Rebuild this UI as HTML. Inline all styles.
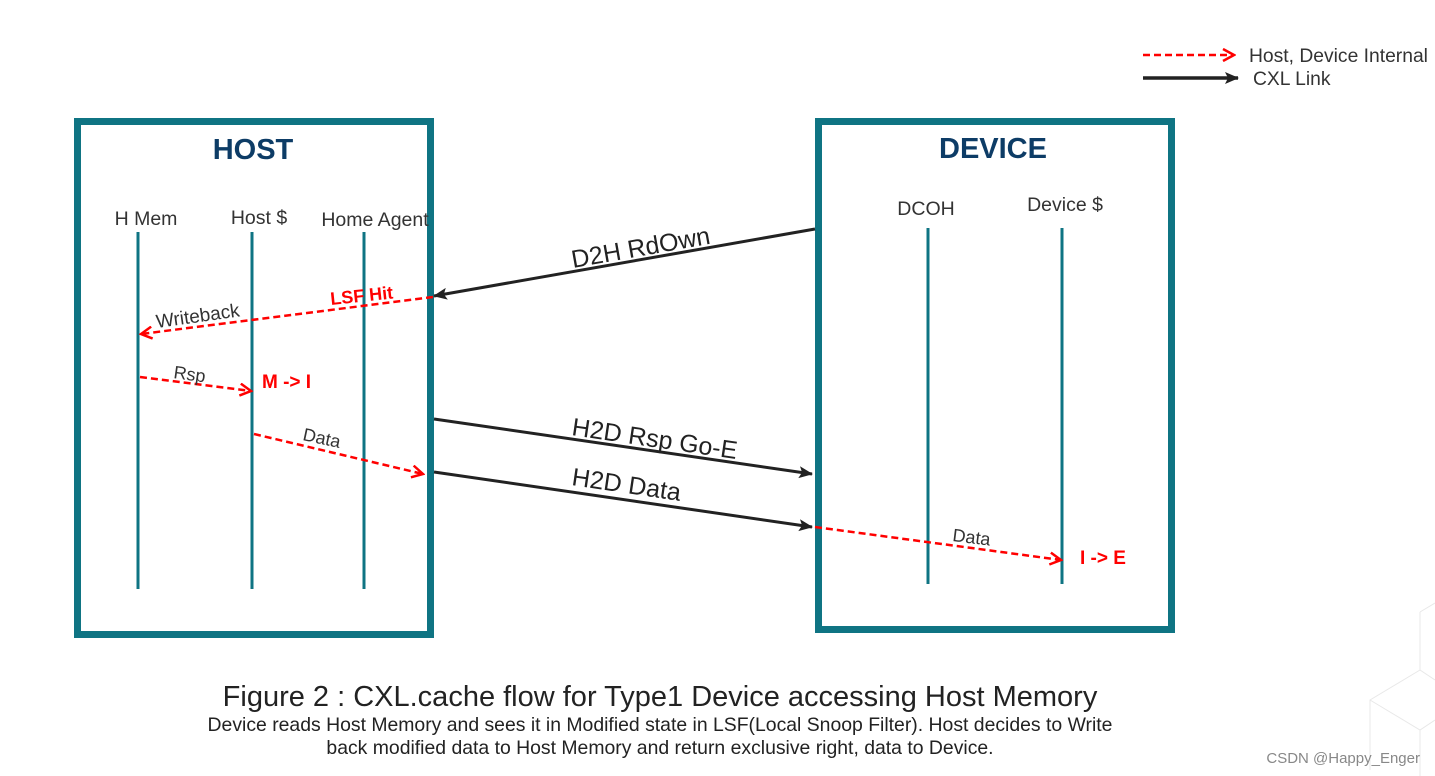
<!DOCTYPE html>
<html><head><meta charset="utf-8"><style>
html,body{margin:0;padding:0;background:#fff;}
svg{display:block;font-family:"Liberation Sans",Arial,sans-serif;}
</style></head><body>
<svg width="1435" height="776" viewBox="0 0 1435 776" xmlns="http://www.w3.org/2000/svg">
<defs>
<marker id="ab" markerWidth="14" markerHeight="14" refX="13" refY="7" orient="auto" markerUnits="userSpaceOnUse"><path d="M0,1 L14,7 L0,13 L3,7 Z" fill="#222"/></marker>
<marker id="ar" markerWidth="14" markerHeight="14" refX="12" refY="7" orient="auto" markerUnits="userSpaceOnUse"><path d="M1,1 L12,7 L1,13" fill="none" stroke="#f00" stroke-width="2.5"/></marker>
</defs>
<g stroke="#e8e8e8" stroke-width="1" fill="none">
<path d="M1420,612 L1435,603 M1420,612 L1420,670 L1435,680 M1420,670 L1370,700 L1370,770 M1370,700 L1420,730 L1435,720 M1420,730 L1420,776"/>
</g>
<line x1="1143" y1="55" x2="1234" y2="55" stroke="#f00" stroke-width="2.5" stroke-dasharray="7,4" marker-end="url(#ar)"/>
<text x="1249" y="62" font-size="19.3" fill="#333">Host, Device Internal</text>
<line x1="1143" y1="78" x2="1238" y2="78" stroke="#222" stroke-width="3.5" marker-end="url(#ab)"/>
<text x="1253" y="85" font-size="19.3" fill="#333">CXL Link</text>
<rect x="77.5" y="121.5" width="353" height="513" fill="none" stroke="#0f7483" stroke-width="7"/>
<rect x="818.5" y="121.5" width="353" height="508" fill="none" stroke="#0f7483" stroke-width="7"/>
<text x="253" y="159" font-size="29" font-weight="bold" fill="#0d3c66" text-anchor="middle">HOST</text>
<text x="993" y="158" font-size="29" font-weight="bold" fill="#0d3c66" text-anchor="middle">DEVICE</text>
<g stroke="#0f7483" stroke-width="3">
<line x1="138" y1="232" x2="138" y2="589"/>
<line x1="252" y1="232" x2="252" y2="589"/>
<line x1="364" y1="232" x2="364" y2="589"/>
<line x1="928" y1="228" x2="928" y2="584"/>
<line x1="1062" y1="228" x2="1062" y2="584"/>
</g>
<g font-size="19.5" fill="#333" text-anchor="middle">
<text x="146" y="225">H Mem</text>
<text x="259" y="224">Host $</text>
<text x="375" y="226">Home Agent</text>
<text x="926" y="215">DCOH</text>
<text x="1065" y="211">Device $</text>
</g>
<line x1="815" y1="229" x2="434" y2="296" stroke="#222" stroke-width="3" marker-end="url(#ab)"/>
<text x="0" y="0" font-size="25" fill="#222" transform="translate(573,268) rotate(-10)">D2H RdOwn</text>
<line x1="434" y1="419" x2="812" y2="474" stroke="#222" stroke-width="3" marker-end="url(#ab)"/>
<text x="0" y="0" font-size="25" fill="#222" transform="translate(571,435) rotate(8.3)">H2D Rsp Go-E</text>
<line x1="434" y1="472" x2="812" y2="527" stroke="#222" stroke-width="3" marker-end="url(#ab)"/>
<text x="0" y="0" font-size="25" fill="#222" transform="translate(571,485) rotate(8.3)">H2D Data</text>
<g stroke="#f00" stroke-width="2.5" stroke-dasharray="7,4" fill="none">
<line x1="433" y1="297" x2="141" y2="334" marker-end="url(#ar)"/>
<line x1="140" y1="377" x2="251" y2="391" marker-end="url(#ar)"/>
<line x1="254" y1="434" x2="423" y2="474" marker-end="url(#ar)"/>
<line x1="815" y1="527" x2="1061" y2="560" marker-end="url(#ar)"/>
</g>
<text x="0" y="0" font-size="18" font-weight="bold" fill="#f00" transform="translate(331,305) rotate(-6)">LSF Hit</text>
<text x="0" y="0" font-size="19" fill="#333" transform="translate(157,328) rotate(-8)">Writeback</text>
<text x="0" y="0" font-size="18" fill="#333" transform="translate(173,378) rotate(8)">Rsp</text>
<text x="262" y="388" font-size="19" font-weight="bold" fill="#f00">M -&gt; I</text>
<text x="0" y="0" font-size="18" fill="#333" transform="translate(302,440) rotate(12)">Data</text>
<text x="0" y="0" font-size="18" fill="#333" transform="translate(952,541) rotate(7)">Data</text>
<text x="1080" y="564" font-size="19" font-weight="bold" fill="#f00">I -&gt; E</text>
<text x="660" y="706" font-size="29" fill="#222" text-anchor="middle">Figure 2 : CXL.cache flow for Type1 Device accessing Host Memory</text>
<text x="660" y="731" font-size="19.4" fill="#222" text-anchor="middle">Device reads Host Memory and sees it in Modified state in LSF(Local Snoop Filter). Host decides to Write</text>
<text x="660" y="754" font-size="19.4" fill="#222" text-anchor="middle">back modified data to Host Memory and return exclusive right, data to Device.</text>
<text x="1420" y="763" font-size="15" fill="#888" text-anchor="end">CSDN @Happy_Enger</text>
</svg>
</body></html>
